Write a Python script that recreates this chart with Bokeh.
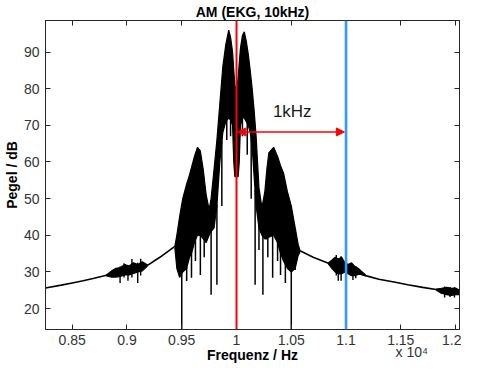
import numpy as np
from bokeh.plotting import figure
from bokeh.models import Range1d, FixedTicker, LinearAxis, Span, Arrow, NormalHead, Label
from bokeh.embed import file_html
from bokeh.resources import INLINE

# ---------------- data ----------------
x_ticks = [8500, 9000, 9500, 10000, 10500, 11000, 11500, 12000]
x_tick_labels = ["0.85", "0.9", "0.95", "1", "1.05", "1.1", "1.15", "1.2"]
y_ticks = [20, 30, 40, 50, 60, 70, 80, 90]
x_exponent_text = "x 10\u2074"
x_exponent_pos = 11600

# smooth spectrum floor (Hz, dB)
base_left_f = [8256, 8400, 8500, 8600, 8700, 8812, 8900, 9000, 9100, 9187, 9300, 9437]
base_left_db = [25.6, 26.4, 27.0, 27.6, 28.3, 29.1, 29.7, 30.2, 30.9, 31.8, 34.0, 37.0]
base_right_f = [10580, 10700, 10839, 10950, 11050, 11179, 11300, 11450, 11563, 11700, 11822, 11950, 12036]
base_right_db = [35.8, 34.0, 32.4, 31.2, 30.2, 29.0, 28.0, 27.2, 26.5, 25.8, 25.2, 24.6, 24.3]

# main AM blob: frequency, upper envelope, lower edge of the dense band
blob_f = [9437, 9455, 9480, 9509, 9545, 9571, 9589, 9616, 9643, 9670, 9696, 9723, 9750, 9768,
          9795, 9821, 9848, 9875, 9902, 9929, 9946, 9964, 9975, 9985, 10000, 10015, 10025, 10036,
          10054, 10071, 10089, 10107, 10125, 10143, 10161, 10179, 10205, 10232, 10259, 10277,
          10295, 10339, 10375, 10402, 10429, 10464, 10500, 10536, 10563, 10580]
blob_hi = [37.0, 40.0, 45.0, 50.0, 54.0, 56.5, 58.5, 61.5, 64.0, 63.0, 58.0, 51.0, 47.0, 50.0,
           58.0, 66.0, 76.0, 86.0, 92.0, 96.0, 94.0, 90.0, 85.0, 81.0, 79.0, 83.0, 87.0, 91.0,
           94.5, 95.5, 93.0, 89.5, 85.0, 80.0, 74.0, 67.0, 53.0, 47.5, 52.0, 58.0,
           62.5, 64.0, 61.5, 59.0, 57.0, 52.0, 48.0, 42.0, 37.5, 35.8]
blob_lo = [36.6, 31.0, 28.5, 30.0, 31.0, 34.0, 35.0, 38.0, 40.0, 40.0, 39.0, 38.0, 40.0, 41.0,
           42.0, 48.0, 60.0, 68.0, 71.0, 72.0, 71.5, 70.0, 60.0, 56.0, 56.0, 56.0, 60.0, 70.0,
           72.0, 72.0, 71.0, 70.0, 68.0, 64.0, 56.0, 48.0, 42.0, 40.0, 39.0, 39.0,
           39.5, 40.0, 38.0, 35.0, 33.0, 31.0, 30.0, 31.0, 34.5, 35.4]
# deep notches below the blob (Hz, lowest dB)
spike_f = [9500, 9545, 9589, 9625, 9670, 9705, 9768, 9821, 9866, 9911, 9946,
           10054, 10098, 10134, 10170, 10205, 10241, 10286, 10330, 10375, 10402, 10446, 10500, 10536]
spike_lo = [10, 27.5, 28.4, 33.0, 29.2, 34.0, 23.8, 26.5, 48.0, 66.0, 67.0,
            67.0, 62.0, 50.0, 26.5, 36.0, 23.8, 34.0, 28.4, 33.0, 29.2, 27.0, 10, 30.5]

# small side clusters (Hz, upper dB, lower dB) and their spikes (Hz, low, high)
cA_f = [8812, 8860, 8900, 8940, 8980, 9020, 9060, 9100, 9140, 9187]
cA_hi = [29.2, 30.3, 31.0, 31.2, 32.0, 31.6, 32.5, 32.0, 32.8, 31.9]
cA_lo = [28.9, 28.6, 28.6, 28.8, 29.2, 29.2, 29.6, 30.0, 30.3, 31.6]
cA_sf = [8937, 8973, 9009, 9045, 9098, 9125]
cA_slo = [27.0, 28.5, 27.6, 28.5, 27.0, 29.0]
cA_shi = [31.5, 32.4, 31.8, 33.5, 32.5, 33.6]

cB_f = [10839, 10870, 10900, 10930, 10960, 10990, 11020, 11050, 11080, 11110, 11140, 11179]
cB_hi = [32.5, 33.2, 34.0, 33.5, 34.0, 32.5, 32.0, 32.5, 31.5, 31.0, 30.2, 29.2]
cB_lo = [32.2, 31.0, 30.0, 29.5, 29.5, 30.0, 29.5, 29.0, 29.0, 29.3, 29.3, 28.9]
cB_sf = [10911, 10929, 10955, 11063, 11089]
cB_slo = [29.0, 27.6, 27.6, 27.8, 28.3]
cB_shi = [34.6, 33.5, 34.3, 32.0, 31.6]

cC_f = [11822, 11870, 11920, 11960, 12000, 12036]
cC_hi = [25.3, 25.5, 25.8, 25.5, 25.6, 25.0]
cC_lo = [25.1, 24.2, 23.8, 23.6, 23.8, 23.8]
cC_sf = [11900, 11950, 11990]
cC_slo = [23.0, 23.2, 23.0]
cC_shi = [26.0, 25.9, 25.8]

carrier_f = 10000
sideband_f = 11000
arrow_db = 68.2
arrow_x0, arrow_x1 = 10012, 10985
arrow_text = "1kHz"
arrow_text_f, arrow_text_db = 10509, 73.9

# ---------------- figure ----------------
FONT = "Liberation Sans"
AX = "#262626"
TXT = "#333333"

p = figure(width=461, height=365, output_backend="svg", toolbar_location=None,
           title="AM (EKG, 10kHz)",
           x_range=Range1d(8256, 12036), y_range=Range1d(14.3, 98.6),
           min_border_left=43, min_border_right=2, min_border_top=20, min_border_bottom=36)
p.background_fill_color = "white"
p.border_fill_color = "white"
p.outline_line_color = AX
p.xgrid.visible = False
p.ygrid.visible = False

p.title.align = "center"
p.title.offset = -6
p.title.standoff = 2
p.title.text_font = FONT
p.title.text_font_size = "14px"
p.title.text_font_style = "bold"
p.title.text_color = "#000000"

xa = p.xaxis[0]
ya = p.yaxis[0]
xa.ticker = FixedTicker(ticks=x_ticks)
xa.major_label_overrides = {t: l for t, l in zip(x_ticks, x_tick_labels)}
ya.ticker = FixedTicker(ticks=y_ticks)
for ax in (xa, ya):
    ax.major_tick_in = 5
    ax.major_tick_out = 0
    ax.minor_tick_line_color = None
    ax.axis_line_color = AX
    ax.major_tick_line_color = AX
    ax.major_label_text_font = FONT
    ax.major_label_text_font_size = "14px"
    ax.major_label_text_color = TXT
xa.major_label_standoff = 5
ya.major_label_standoff = 6
ya.axis_label = "Pegel / dB"
ya.axis_label_standoff = 1
ya.axis_label_text_font = FONT
ya.axis_label_text_font_size = "14px"
ya.axis_label_text_font_style = "bold"
ya.axis_label_text_color = "#000000"

# second row below the x tick labels: exponent and axis title
exp_ax = LinearAxis(ticker=FixedTicker(ticks=[x_exponent_pos]),
                    major_label_overrides={x_exponent_pos: x_exponent_text},
                    major_tick_in=0, major_tick_out=0, major_tick_line_color=None,
                    minor_tick_line_color=None, axis_line_color=None,
                    major_label_standoff=-4, major_label_text_font=FONT,
                    major_label_text_font_size="14px", major_label_text_color=TXT,
                    axis_label="Frequenz / Hz", axis_label_standoff=-16,
                    axis_label_text_font=FONT, axis_label_text_font_size="14px",
                    axis_label_text_font_style="bold", axis_label_text_color="#000000")
p.add_layout(exp_ax, "below")

top_ax = LinearAxis(ticker=FixedTicker(ticks=x_ticks), major_tick_in=5, major_tick_out=0,
                    minor_tick_line_color=None, major_label_text_color=None,
                    major_label_standoff=0, axis_line_color=AX, major_tick_line_color=AX)
right_ax = LinearAxis(ticker=FixedTicker(ticks=y_ticks), major_tick_in=5, major_tick_out=0,
                      minor_tick_line_color=None, major_label_text_color=None,
                      major_label_standoff=0, axis_line_color=AX, major_tick_line_color=AX)
p.add_layout(top_ax, "above")
p.add_layout(right_ax, "right")

# ---------------- spectrum ----------------
K = "#000000"
p.line(base_left_f, base_left_db, line_color=K, line_width=1.6)
p.line(base_right_f, base_right_db, line_color=K, line_width=1.6)

for f, hi, lo in ((blob_f, blob_hi, blob_lo), (cA_f, cA_hi, cA_lo),
                  (cB_f, cB_hi, cB_lo), (cC_f, cC_hi, cC_lo)):
    p.varea(x=f, y1=lo, y2=hi, fill_color=K)
    p.line(f, hi, line_color=K, line_width=1.2)
    p.line(f, lo, line_color=K, line_width=1.2)

spike_top = list(np.interp(spike_f, blob_f, blob_lo) + 0.5)
p.segment(x0=spike_f, y0=spike_lo, x1=spike_f, y1=spike_top, line_color=K, line_width=1.5)
for sf, slo, shi in ((cA_sf, cA_slo, cA_shi), (cB_sf, cB_slo, cB_shi), (cC_sf, cC_slo, cC_shi)):
    p.segment(x0=sf, y0=slo, x1=sf, y1=shi, line_color=K, line_width=1.4)

# ---------------- markers ----------------
p.add_layout(Span(location=carrier_f, dimension="height", line_color="#ff0000", line_width=2))
p.add_layout(Span(location=sideband_f, dimension="height", line_color="#3399ff", line_width=2.6))
p.add_layout(Arrow(x_start=arrow_x0, y_start=arrow_db, x_end=arrow_x1, y_end=arrow_db,
                   line_color="#ff0000", line_width=1.6,
                   start=NormalHead(size=8, fill_color="#ff0000", line_color="#ff0000", line_width=1),
                   end=NormalHead(size=8, fill_color="#ff0000", line_color="#ff0000", line_width=1)))
p.add_layout(Label(x=arrow_text_f, y=arrow_text_db, text=arrow_text, text_align="center",
                   text_baseline="middle", text_font=FONT, text_font_size="17px",
                   text_color="#1a1a1a"))

open("out.html", "w").write(file_html(p, INLINE))
